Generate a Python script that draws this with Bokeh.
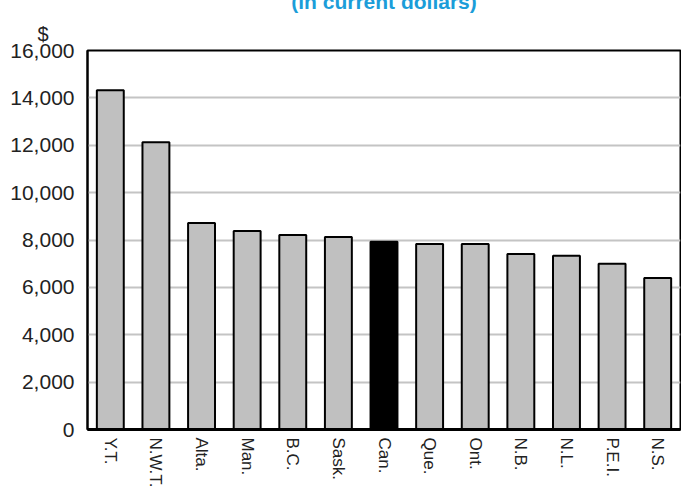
from bokeh.plotting import figure
from bokeh.models import (ColumnDataSource, FactorRange, Range1d, NumeralTickFormatter,
                          FixedTicker, Title)
from bokeh.embed import file_html
from bokeh.resources import INLINE

categories = ["Y.T.", "N.W.T.", "Alta.", "Man.", "B.C.", "Sask.", "Can.", "Que.", "Ont.", "N.B.", "N.L.", "P.E.I.", "N.S."]
values = [14320, 12130, 8720, 8380, 8210, 8130, 7930, 7830, 7830, 7410, 7330, 7000, 6400]
y_ticks = [0, 2000, 4000, 6000, 8000, 10000, 12000, 14000, 16000]
title_text = "(in current dollars)"
unit_text = "$"
highlight = "Can."

fills = ["#000000" if c == highlight else "#c0c0c0" for c in categories]
src = ColumnDataSource(dict(cat=categories, val=values, fill=fills))

FONT = "Liberation Sans"

p = figure(x_range=FactorRange(*categories, range_padding=0), y_range=Range1d(0, 16000),
           width=681, height=514, output_backend="svg", toolbar_location=None,
           title_location=None,
           min_border_left=87, min_border_right=1, min_border_top=63, min_border_bottom=71)
p.styles = {"margin-top": "-14px"}

p.vbar(x="cat", top="val", width=0.59, source=src, fill_color="fill",
       line_color="black", line_width=2)

p.xgrid.grid_line_color = None
p.ygrid.grid_line_color = "#c4c4c4"
p.ygrid.grid_line_width = 2
p.outline_line_color = "black"
p.outline_line_width = 2

p.yaxis.ticker = FixedTicker(ticks=y_ticks)
p.yaxis.formatter = NumeralTickFormatter(format="0,0")
p.yaxis.major_tick_line_color = None
p.yaxis.major_tick_out = 0
p.yaxis.major_tick_in = 0
p.yaxis.minor_tick_line_color = None
p.yaxis.axis_line_color = "black"
p.yaxis.axis_line_width = 2
p.yaxis.major_label_standoff = 13
p.yaxis.major_label_text_font = FONT
p.yaxis.major_label_text_font_size = "21px"
p.yaxis.major_label_text_color = "#222222"

p.xaxis.major_tick_line_color = None
p.xaxis.major_tick_out = 0
p.xaxis.major_tick_in = 0
p.xaxis.minor_tick_line_color = None
p.xaxis.axis_line_color = "black"
p.xaxis.axis_line_width = 3
p.xaxis.major_label_orientation = "vertical"
p.xaxis.major_label_standoff = 8
p.xaxis.major_label_text_font = FONT
p.xaxis.major_label_text_font_size = "17px"
p.xaxis.major_label_text_color = "#222222"

# unit "$" (closest to the frame), then the subtitle above it
t_unit = Title(text=unit_text, align="left", offset=-50, standoff=12,
               text_font=FONT, text_font_style="normal", text_font_size="20px",
               text_color="#222222")
t_main = Title(text=title_text, align="center", standoff=3,
               text_font=FONT, text_font_style="bold",
               text_font_size="21px", text_color="#1b9dd9")
p.add_layout(t_unit, "above")
p.add_layout(t_main, "above")

open("out.html", "w").write(file_html(p, INLINE))
